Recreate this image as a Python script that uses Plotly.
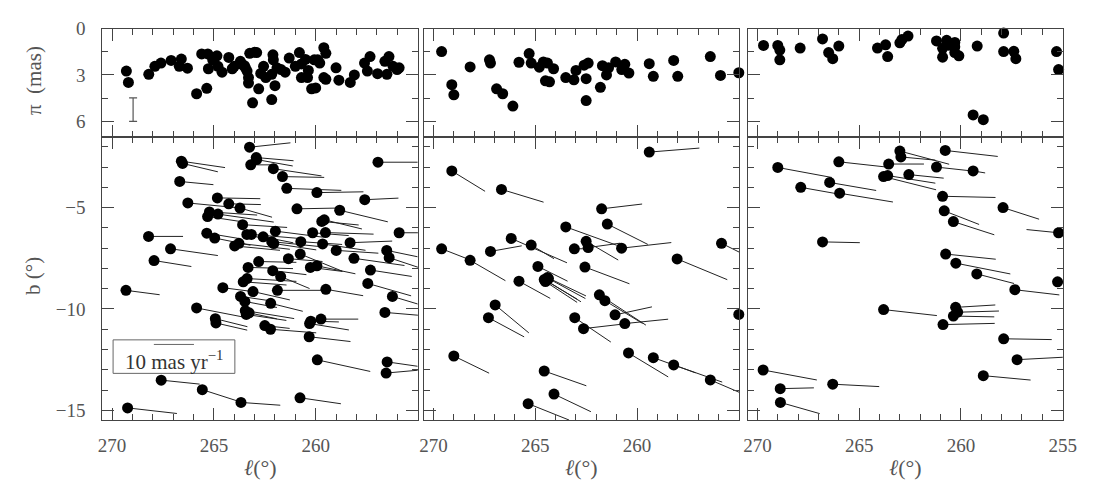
import plotly.graph_objects as go

# ---------------- data ----------------
# Panel 1 (parallax vs l)
P1_PLX_L = [269.3, 269.2, 268.2, 267.9, 267.6, 267.1, 266.6, 266.7, 266.3, 265.85, 265.6, 265.35, 265.3, 265.27,
            265.06, 264.85, 264.8, 264.6, 264.27, 264.0, 263.7, 263.6, 263.45, 263.37, 263.3, 263.3, 263.24, 263.0,
            262.9, 263.1, 262.8, 262.56, 262.45, 262.16, 262.1, 262.08, 262.0, 262.16, 261.9, 261.7, 261.5, 261.3,
            261.0, 260.8, 260.7, 260.7, 260.4, 260.36, 260.2, 260.0, 260.07, 259.9, 259.8, 259.6, 259.5, 259.6,
            259.5, 259.0, 258.86, 258.3, 258.1, 257.6, 257.46, 257.33, 256.96, 256.6, 256.5, 256.4, 256.2, 256.0,
            255.9, 263.5, 262.7, 264.1, 260.5]
P1_PLX = [2.75, 3.49, 2.96, 2.44, 2.23, 2.06, 1.97, 2.44, 2.56, 4.22, 1.64, 3.87, 1.64, 2.6,
          2.02, 1.76, 2.44, 2.82, 1.87, 2.44, 2.12, 2.33, 2.54, 2.75, 3.17, 3.53, 1.6, 1.53,
          1.55, 4.81, 3.9, 2.44, 3.17, 2.96, 1.7, 2.02, 3.7, 4.6, 2.54, 2.65, 2.82, 1.91,
          2.44, 1.55, 2.29, 3.17, 3.17, 2.71, 3.9, 3.84, 2.02, 2.02, 2.23, 1.24, 1.6, 3.17,
          3.28, 2.54, 3.34, 3.49, 3.0, 2.23, 2.75, 1.81, 2.92, 2.12, 2.96, 1.81, 2.44, 2.65,
          2.54, 2.4, 2.9, 2.6, 2.0]

# Panel 1 (positions and proper motions, mas/yr)
P1_L = [263.25, 266.6, 266.54, 262.92, 262.9, 263.19, 256.94, 262.08, 261.63, 266.68, 261.42, 259.94, 257.59,
        264.83, 264.27, 266.28, 263.72, 260.92, 258.82, 265.22, 265.31, 264.8, 263.59, 259.7, 259.58, 255.9,
        268.21, 265.35, 264.96, 263.38, 263.16, 262.58, 261.98, 260.15, 259.52, 262.16, 262.06, 260.73, 259.66,
        258.31, 267.13, 263.98, 263.77, 258.99, 256.51, 256.39, 267.94, 262.8, 261.34, 260.76, 258.12,
        263.32, 262.11, 260.26, 259.94, 257.31, 263.37, 263.56, 261.72, 257.44, 269.32, 264.56, 263.08, 261.88,
        259.5, 263.69, 263.48, 262.21, 256.23, 265.85, 263.46, 263.27, 263.41, 264.93, 264.9, 262.5, 262.22,
        260.3, 260.24, 259.74, 260.32, 256.6, 259.92, 256.49, 256.54, 267.59, 265.57, 263.67, 260.77, 269.24]
P1_B = [-2.02, -2.71, -2.82, -2.53, -2.63, -2.89, -2.76, -3.08, -3.47, -3.71, -4.05, -4.26, -4.61,
        -4.52, -4.81, -4.77, -5.02, -5.06, -5.13, -5.21, -5.44, -5.32, -5.84, -5.68, -5.6, -6.24,
        -6.42, -6.26, -6.5, -6.32, -6.32, -6.44, -6.16, -6.24, -6.23, -6.68, -6.77, -6.68, -6.79,
        -6.73, -7.03, -6.89, -6.76, -7.11, -7.11, -7.47, -7.61, -7.66, -7.52, -7.29, -7.5,
        -7.95, -8.11, -7.95, -7.87, -8.08, -8.5, -8.66, -8.4, -8.74, -9.08, -8.95, -9.14, -9.08,
        -9.03, -9.38, -9.63, -9.72, -9.38, -9.95, -10.08, -10.19, -10.27, -10.48, -10.69, -10.82, -11.0,
        -10.72, -10.6, -10.5, -11.37, -10.17, -12.51, -12.61, -13.16, -13.51, -13.98, -14.61, -14.38, -14.88]
P1_PML = [-10.2, -10.9, -8.8, -9.3, -9.0, -6.5, -9.9, -12.0, -10.4, -8.4, -13.6, -11.6, -8.4,
          -10.7, -8.0, -12.4, -8.0, -10.5, -12.0, -11.9, -9.9, -13.9, -11.1, -9.2, -9.4, -6.0,
          -8.6, -8.4, -8.9, -7.5, -12.9, -7.5, -11.8, -9.0, -12.0, -12.7, -10.6, -10.3, -10.7,
          -10.5, -11.8, -11.3, -12.7, -10.5, -7.7, -9.0, -9.3, -9.4, -8.5, -10.5, -12.6,
          -11.2, -8.4, -8.0, -9.6, -10.3, -12.3, -10.8, -7.2, -10.8, -8.4, -7.7, -9.2, -12.1,
          -9.3, -7.4, -8.0, -8.0, -6.3, -11.8, -12.2, -6.9, -10.0, -8.0, -7.8, -6.2, -11.4,
          -9.8, -7.0, -9.3, -10.3, -8.3, -13.2, -7.6, -7.9, -9.6, -9.6, -9.8, -10.2, -12.3]
P1_PMB = [1.1, -1.6, -2.1, -0.8, -1.6, 0.0, 0.0, -1.8, -0.2, -0.8, -0.5, 0.2, 0.4,
          -0.2, -0.2, -1.2, -2.3, 0.2, -2.9, -0.8, -1.5, -2.0, -0.7, -0.9, -2.3, 0.0,
          0.0, -1.4, -1.8, -1.9, -1.1, -1.5, -1.5, -0.7, -0.4, -1.3, -1.6, -0.7, -1.6,
          0.4, -1.7, -1.1, -1.5, -0.7, -1.6, -3.0, -1.5, -0.2, -0.7, -4.3, -1.8,
          -0.3, -1.0, -1.0, -2.0, -1.6, -0.7, -0.8, -3.0, -3.1, -1.1, -1.0, -2.1, 0.0,
          -1.6, -1.1, -1.5, -2.0, -1.9, -2.3, -2.0, -1.5, -1.5, -2.0, -1.8, -0.7, -0.9,
          -1.6, -0.2, 0.0, -1.2, -0.7, -2.9, -1.1, 0.7, -1.0, -3.1, -0.7, -1.5, -1.4]

# Panel 2
P2_PLX_L = [269.6, 269.1, 269.0, 268.2, 267.25, 267.2, 266.9, 266.6, 266.1, 265.8, 265.3, 265.2, 264.8, 264.6,
            264.4, 264.5, 264.3, 264.1, 263.5, 263.1, 263.0, 262.6, 262.5, 262.5, 262.4, 261.8, 261.7, 261.5,
            261.4, 261.05, 260.75, 260.6, 260.4, 259.4, 259.2, 258.2, 258.0, 256.4, 255.9, 255.0]
P2_PLX = [1.49, 3.63, 4.29, 2.48, 2.02, 2.23, 3.9, 4.22, 5.02, 2.18, 1.62, 2.23, 2.5, 2.16,
          2.23, 3.38, 3.45, 2.6, 3.17, 3.32, 2.71, 2.37, 3.24, 4.66, 2.23, 3.8, 2.4, 3.0,
          2.54, 2.16, 2.65, 2.31, 2.88, 2.27, 3.09, 2.06, 3.09, 1.81, 3.03, 2.86]
P2_L = [259.4, 269.1, 266.66, 261.74, 261.46, 263.5, 266.18, 265.2, 269.6, 267.2, 262.5, 263.08, 262.4,
        260.76, 255.85, 268.2, 264.87, 262.56, 258.03, 265.8, 264.56, 264.45, 264.35, 264.5, 264.4,
        261.85, 261.58, 261.08, 260.6, 263.06, 262.63, 266.97, 267.3, 269.0, 264.56, 264.08, 265.35,
        260.42, 259.2, 258.2, 256.4, 255.0]
P2_B = [-2.26, -3.19, -4.1, -5.06, -5.81, -5.95, -6.52, -6.85, -7.03, -7.16, -6.66, -7.03, -6.97,
        -7.0, -6.76, -7.6, -7.9, -7.93, -7.53, -8.63, -8.55, -8.6, -8.5, -8.65, -8.45,
        -9.3, -9.59, -10.29, -10.72, -10.43, -10.97, -9.8, -10.43, -12.32, -13.06, -14.2, -14.67,
        -12.17, -12.4, -12.76, -13.5, -10.27]
P2_PML = [-12.5, -8.3, -10.5, -10.1, -10.1, -12.7, -13.9, -5.7, -7.4, -7.8, -8.0, -3.0, -8.0,
          -12.4, -7.0, -8.8, -7.4, -11.1, -12.5, -7.8, -8.2, -8.6, -9.2, -7.9, -9.6,
          -11.6, -9.4, -9.2, -10.8, -9.0, -10.3, -8.4, -8.9, -8.8, -10.5, -9.2, -10.2,
          -9.9, -10.5, -12.1, -10.0, -6.0]
P2_PMB = [1.0, -5.1, -3.2, 1.2, -5.1, -4.6, -6.1, -3.4, -2.9, 1.4, -4.7, 0.0, 1.1,
          1.4, -3.5, -5.1, -3.7, -4.2, -5.2, -4.3, -4.9, -5.3, -5.0, -5.2, -4.6,
          -7.6, -5.7, 2.0, 1.1, -6.1, 1.2, -7.0, -4.8, -4.3, -3.7, -4.4, -4.1,
          -6.0, -3.8, -4.3, -4.3, 0.0]

# Panel 3
P3_PLX_L = [269.7, 269.0, 268.9, 268.9, 267.9, 266.8, 266.5, 266.3, 266.0, 264.1, 263.7, 263.6, 263.0, 262.9,
            262.6, 261.2, 260.9, 260.9, 260.7, 260.6, 260.3, 260.3, 260.3, 260.1, 259.4, 259.2, 258.9, 257.9,
            257.9, 257.4, 257.3, 255.3, 255.2]
P3_PLX = [1.09, 1.09, 1.39, 2.02, 1.26, 0.67, 1.55, 1.95, 1.13, 1.26, 1.05, 1.81, 0.92, 0.71,
          0.48, 0.8, 1.28, 1.85, 0.76, 1.07, 0.9, 1.18, 1.55, 1.76, 5.59, 1.13, 5.9, 0.29,
          1.49, 1.47, 1.95, 1.49, 2.65]
P3_L = [263.0, 262.95, 260.77, 266.0, 263.55, 269.0, 261.2, 259.4, 263.8, 263.6, 262.56, 266.45, 267.87,
        265.96, 260.9, 257.93, 260.82, 260.37, 255.2, 266.8, 260.75, 260.25, 259.22, 257.35, 255.25, 263.8,
        260.26, 260.16, 260.37, 260.88, 257.9, 257.24, 258.9, 269.72, 268.88, 266.3, 268.87]
P3_B = [-2.21, -2.5, -2.18, -2.74, -2.85, -3.02, -3.0, -3.19, -3.47, -3.42, -3.37, -3.76, -4.0,
        -4.29, -4.44, -5.0, -5.16, -5.69, -6.24, -6.69, -7.29, -7.74, -8.27, -9.05, -8.66, -10.03,
        -9.92, -10.16, -10.35, -10.77, -11.47, -12.5, -13.29, -13.01, -13.93, -13.71, -14.61]
P3_PML = [-12.3, -8.6, -13.1, -12.7, -8.8, -13.5, -9.1, -3.0, -13.1, -11.9, -8.7, -11.6, -9.0,
          -13.3, -13.2, -9.0, -8.7, -10.2, 8.0, -9.3, -12.5, -13.6, -9.3, -11.1, -5.0, -13.3,
          -9.9, -10.3, -10.2, -12.9, -12.0, -11.4, -11.8, -13.4, -8.4, -11.6, -9.8]
P3_PMB = [-3.3, -0.8, -1.5, -1.4, 0.0, -2.5, -1.0, -0.5, -3.3, -1.9, -0.9, -2.0, -1.6,
          -2.2, -0.3, -2.9, -3.4, -3.3, 0.8, -0.2, -1.3, -2.7, -2.4, -1.3, -1.0, -1.5,
          0.6, 0.3, -0.2, 0.3, -0.2, 0.6, -1.1, -2.5, 0.2, -0.6, -2.8]

X_TICKS = [270, 265, 260, 255]
PLX_TICKS = [0, 3, 6]
B_TICKS = [-5, -10, -15]
SCALE_PM = 10  # mas/yr shown in the key

# ---------------- style ----------------
K = 0.197              # degrees of arrow per mas/yr
SERIF = "Liberation Serif"
AX = "#444444"
LBL = "#555555"

panels = [
    (P1_PLX_L, P1_PLX, P1_L, P1_B, P1_PML, P1_PMB),
    (P2_PLX_L, P2_PLX, P2_L, P2_B, P2_PML, P2_PMB),
    (P3_PLX_L, P3_PLX, P3_L, P3_B, P3_PML, P3_PMB),
]

xdoms = [[0.0909, 0.3825], [0.3879, 0.6795], [0.6873, 0.9788]]
ytop = [0.7372, 0.9614]
ybot = [0.1484, 0.7372]

fig = go.Figure()

for i, (pl, pv, L, B, PML, PMB) in enumerate(panels):
    xt = "x" if i == 0 else f"x{i+1}"
    yt = "y" if i == 0 else f"y{i+1}"
    xb = f"x{i+4}"
    yb = f"y{i+4}"
    fig.add_trace(go.Scatter(x=pl, y=pv, mode="markers", xaxis=xt, yaxis=yt,
                             marker=dict(size=11, color="black"), cliponaxis=False,
                             showlegend=False, hoverinfo="skip"))
    vx, vy = [], []
    for l, b, ml, mb in zip(L, B, PML, PMB):
        vx += [l, l + K * ml, None]
        vy += [b, b + K * mb, None]
    fig.add_trace(go.Scatter(x=vx, y=vy, mode="lines", xaxis=xb, yaxis=yb,
                             line=dict(color="#222222", width=1),
                             showlegend=False, hoverinfo="skip"))
    fig.add_trace(go.Scatter(x=L, y=B, mode="markers", xaxis=xb, yaxis=yb,
                             marker=dict(size=11, color="black"), cliponaxis=False,
                             showlegend=False, hoverinfo="skip"))

# typical parallax error bar
fig.add_trace(go.Scatter(x=[268.97], y=[5.25], mode="markers", xaxis="x", yaxis="y",
                         marker=dict(size=1, color="rgba(0,0,0,0)"),
                         error_y=dict(type="data", array=[0.76], color="#555555", thickness=1.2, width=4),
                         showlegend=False, hoverinfo="skip"))

common = dict(showline=True, linecolor=AX, linewidth=1, mirror="ticks", ticks="inside",
              tickcolor=AX, tickwidth=1, showgrid=False, zeroline=False,
              tickfont=dict(family=SERIF, size=19, color=LBL))

layout = dict(width=1100, height=492, margin=dict(l=0, r=0, t=0, b=0),
              paper_bgcolor="white", plot_bgcolor="white", showlegend=False)

for i in range(3):
    sfx_t = "" if i == 0 else str(i + 1)
    sfx_b = str(i + 4)
    xr = [270.48, 254.98]
    layout["xaxis" + sfx_t] = dict(common, domain=xdoms[i], range=xr, anchor="y" + sfx_t,
                                   tickvals=X_TICKS, ticklen=12, showticklabels=False,
                                   minor=dict(dtick=1, ticks="inside", ticklen=6, tickcolor=AX))
    layout["yaxis" + sfx_t] = dict(common, domain=ytop, range=[7, 0], anchor="x" + sfx_t,
                                   tickvals=PLX_TICKS, ticklen=12, showticklabels=(i == 0),
                                   ticklabelstandoff=12,
                                   minor=dict(dtick=1.5, ticks="inside", ticklen=6, tickcolor=AX))
    bt = X_TICKS if i == 2 else X_TICKS[:-1]
    layout["xaxis" + sfx_b] = dict(common, domain=xdoms[i], range=xr, anchor="y" + sfx_b,
                                   tickvals=bt, ticktext=[str(v) for v in bt], ticklen=12,
                                   ticklabelstandoff=8,
                                   minor=dict(dtick=1, ticks="inside", ticklen=6, tickcolor=AX))
    layout["yaxis" + sfx_b] = dict(common, domain=ybot, range=[-15.5, -1.5], anchor="x" + sfx_b,
                                   tickvals=B_TICKS, ticktext=["\u22125", "\u221210", "\u221215"],
                                   ticklen=12, showticklabels=(i == 0), ticklabelstandoff=12,
                                   minor=dict(dtick=1, ticks="inside", ticklen=6, tickcolor=AX))

fig.update_layout(**layout)

# key box with scale bar
fig.add_shape(type="rect", xref="x4 domain", yref="y4 domain", x0=0.034, x1=0.42, y0=0.166, y1=0.284,
              line=dict(color="#666666", width=1), fillcolor="white", layer="above")
fig.add_shape(type="line", xref="x4", yref="y4", x0=267.95, x1=267.95 - K * SCALE_PM, y0=-11.75, y1=-11.75,
              line=dict(color="#666666", width=1), layer="above")
fig.add_annotation(xref="x4 domain", yref="y4 domain", x=0.227, y=0.21, showarrow=False,
                   xanchor="center", yanchor="middle",
                   text=f"{SCALE_PM} mas yr<sup>\u22121</sup>",
                   font=dict(family=SERIF, size=21, color="#333333"))

# axis titles
fig.add_annotation(xref="paper", yref="paper", x=30 / 1100, y=1 - 72 / 492, showarrow=False,
                   xanchor="center", yanchor="middle",
                   text="\u03c0  (mas)", textangle=-90, font=dict(family=SERIF, size=21, color=LBL))
fig.add_annotation(xref="paper", yref="paper", x=30 / 1100, y=1 - 272 / 492, showarrow=False,
                   xanchor="center", yanchor="middle",
                   text="b (\u00b0)", textangle=-90, font=dict(family=SERIF, size=21, color=LBL))
for i in range(3):
    cx = (xdoms[i][0] + xdoms[i][1]) / 2
    fig.add_annotation(xref="paper", yref="paper", x=cx, y=1 - 467 / 492, showarrow=False,
                       xanchor="center", yanchor="middle",
                       text="<i>\u2113</i>(\u00b0)", font=dict(family=SERIF, size=22, color=LBL))

fig.write_html("out.html", config={"displayModeBar": False},
               post_script="document.body.style.margin='0px';")
